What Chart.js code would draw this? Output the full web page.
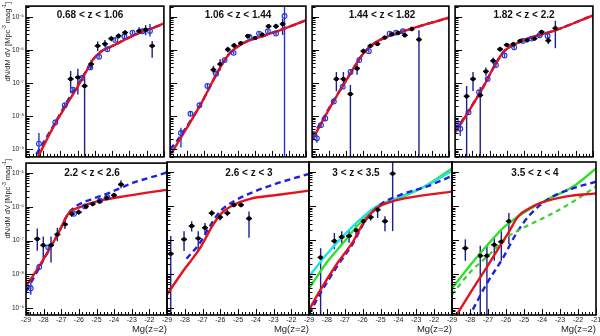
<!DOCTYPE html>
<html>
<head>
<meta charset="utf-8">
<script src="https://cdn.jsdelivr.net/npm/chart.js@4/dist/chart.umd.min.js"></script>
<style>
body { margin: 0; background: #fff; width: 600px; height: 336px; overflow: hidden; position: relative; font-family: "Liberation Sans", Arial, sans-serif; }
canvas { position: absolute; }
.zt { position: absolute; font-weight: bold; font-size: 10px; white-space: nowrap; transform: translateX(-50%); color: #111; }
.yt { position: absolute; left: 0px; writing-mode: vertical-rl; transform: rotate(180deg); font-size: 7.5px; line-height: 8px; white-space: nowrap; color: #222; }
.yt sup { font-size: 5px; }
.xt { position: absolute; top: 323px; width: 50px; text-align: right; font-size: 9.5px; color: #222; }
</style>
</head>
<body>
<script>
// redshift bins, axes
const zBins = ['0.68 < z < 1.06', '1.06 < z < 1.44', '1.44 < z < 1.82', '1.82 < z < 2.2',
               '2.2 < z < 2.6', '2.6 < z < 3', '3 < z < 3.5', '3.5 < z < 4'];
const xTicks = [-29, -28, -27, -26, -25, -24, -23, -22, -21];
const yTicks = [-9, -8, -7, -6, -5];   // log10 decades
const yRangeTop = [-9.23, -4.68];
const yRangeBottom = [-9.20, -4.71];

// all curves: [Mg, log10 phi]; points: [Mg, log10 phi, err low, err high]
const red1 = [[-28.3,-9.23],[-27.45,-8.36],[-26.69,-7.69],[-25.94,-7.06],[-25.47,-6.62],[-25.09,-6.28],[-24.62,-6.04],[-24.05,-5.9],[-23.29,-5.7],[-22.53,-5.51],[-21.4,-5.29],[-21,-5.2]];
const dash1 = [[-28.4,-9.15],[-27.36,-8.25],[-26.6,-7.55],[-25.94,-7.02],[-25.47,-6.6],[-25.09,-6.28],[-24.62,-6.04],[-24.05,-5.9],[-23.29,-5.7],[-22.53,-5.51],[-21.4,-5.29],[-21,-5.2]];
const black1 = [[-26.41,-6.88,-7.3,-6.64],[-25.99,-6.83,-7.35,-6.57],[-25.6,-7.09,-9.5,-6.8],[-25.22,-6.43,-6.57,-6.3],[-24.84,-5.88,-6.04,-5.75],[-24.42,-5.82,-5.92,-5.7],[-24.05,-5.66,-5.74,-5.58],[-23.63,-5.58,-5.66,-5.5],[-23.25,-5.48,-5.56,-5.4],[-22.44,-5.43,-5.51,-5.32],[-22.06,-5.39,-5.56,-5.25],[-21.68,-5.88,-6.24,-5.73]];
const open1 = [[-28.25,-8.83,-9.23,-8.51],[-27.3,-8.19,-8.27,-8.1],[-26.75,-7.67,-7.74,-7.6],[-26.28,-7.2,-7.27,-7.13],[-25.75,-6.85,-6.92,-6.78],[-25.27,-6.53,-6.6,-6.47],[-24.76,-6.21,-6.27,-6.15],[-24.28,-5.98,-6.03,-5.93],[-23.82,-5.7,-5.75,-5.65],[-23.29,-5.59,-5.64,-5.54],[-22.82,-5.48,-5.53,-5.43],[-22.25,-5.44,-5.5,-5.38],[-21.81,-5.43,-5.6,-5.22]];

const red2 = [[-29,-9.18],[-28.08,-8.41],[-27.14,-7.59],[-26.2,-6.67],[-25.55,-6.14],[-24.7,-5.8],[-23.38,-5.56],[-22.07,-5.32],[-21,-5.11]];
const dash2 = [[-29,-9.0],[-28.64,-8.78],[-28.08,-8.36],[-27.14,-7.59],[-26.2,-6.67],[-25.55,-6.14],[-24.7,-5.8],[-23.38,-5.56],[-22.07,-5.32],[-21,-5.11]];
const black2 = [[-26.45,-6.6,-6.74,-6.48],[-26.05,-6.43,-6.62,-6.28],[-25.6,-5.99,-6.07,-5.91],[-25.23,-5.87,-5.94,-5.8],[-24.83,-5.8,-5.86,-5.74],[-24.42,-5.58,-5.64,-5.52],[-23.99,-5.64,-5.7,-5.58],[-23.57,-5.54,-5.6,-5.48],[-23.2,-5.29,-5.36,-5.22],[-22.76,-5.29,-5.37,-5.21],[-22.37,-5.22,-5.55,-5.06]];
const open2 = [[-28.98,-9.04,-9.12,-8.96],[-28.36,-8.51,-8.95,-8.35],[-27.8,-7.93,-8.0,-7.86],[-27.27,-7.67,-7.74,-7.6],[-26.8,-7.09,-7.15,-7.03],[-26.29,-6.72,-6.78,-6.66],[-25.79,-6.31,-6.36,-6.26],[-25.26,-6.09,-6.14,-6.04],[-24.32,-5.61,-5.66,-5.56],[-23.76,-5.51,-5.56,-5.46],[-23.24,-5.44,-5.49,-5.39],[-22.76,-5.51,-5.57,-5.45],[-22.26,-4.98,-9.5,-4.5]];

const red3 = [[-29,-8.72],[-27.73,-7.54],[-26.71,-6.67],[-26.05,-6.14],[-25.49,-5.85],[-25.03,-5.7],[-23.91,-5.48],[-22.61,-5.27],[-21,-5.03]];
const dash3 = [[-29,-8.64],[-28.5,-8.2],[-27.73,-7.52],[-26.71,-6.67],[-26.05,-6.14],[-25.49,-5.85],[-25.03,-5.7],[-23.91,-5.48],[-22.61,-5.27],[-21,-5.03]];
const black3 = [[-27.58,-6.88,-7.25,-6.67],[-27.17,-6.88,-7.1,-6.67],[-26.76,-7.33,-9.5,-7.06],[-26.37,-6.56,-6.75,-6.43],[-26.0,-6.04,-6.12,-5.96],[-25.59,-5.88,-5.95,-5.81],[-25.18,-5.82,-5.88,-5.76],[-24.75,-5.63,-5.69,-5.57],[-24.34,-5.53,-5.59,-5.47],[-23.97,-5.49,-5.55,-5.43],[-23.58,-5.56,-5.62,-5.5],[-23.17,-5.37,-5.44,-5.3],[-22.75,-5.69,-9.5,-5.41]];
const open3 = [[-28.91,-8.56,-8.7,-8.45],[-28.72,-8.67,-8.8,-8.55],[-28.48,-8.27,-8.35,-8.19],[-28.23,-8.07,-8.14,-8.0],[-27.73,-7.56,-7.62,-7.5],[-27.21,-7.11,-7.17,-7.05],[-26.75,-6.67,-6.72,-6.62],[-26.24,-6.31,-6.36,-6.26],[-25.68,-6.04,-6.09,-5.99],[-24.47,-5.51,-5.55,-5.47],[-24.09,-5.48,-5.52,-5.44],[-23.69,-5.44,-5.48,-5.4]];

const red4 = [[-29,-8.5],[-28.18,-7.83],[-27.35,-7.11],[-26.71,-6.48],[-26.15,-6.04],[-25.41,-5.8],[-24.48,-5.61],[-23.18,-5.41],[-21,-4.96]];
const dash4 = [[-29,-8.45],[-28.18,-7.81],[-27.35,-7.1],[-26.71,-6.48],[-26.15,-6.04],[-25.41,-5.8],[-24.48,-5.61],[-23.18,-5.41],[-21,-4.96]];
const black4 = [[-28.33,-7.4,-9.5,-7.09],[-27.96,-6.88,-7.24,-6.67],[-27.54,-7.37,-9.5,-7.12],[-27.21,-6.65,-6.78,-6.53],[-26.79,-6.33,-6.43,-6.23],[-26.39,-5.98,-6.05,-5.91],[-26.0,-5.85,-5.91,-5.79],[-25.62,-5.83,-5.89,-5.77],[-25.22,-5.73,-5.79,-5.67],[-24.82,-5.71,-5.77,-5.65],[-24.39,-5.66,-5.72,-5.6],[-23.98,-5.46,-5.52,-5.4],[-23.59,-5.72,-5.82,-5.62],[-23.18,-5.35,-5.95,-5.12]];
const open4 = [[-28.83,-8.22,-8.3,-8.14],[-28.7,-8.38,-8.6,-8.2],[-28.22,-7.88,-7.95,-7.81],[-27.61,-7.28,-7.34,-7.22],[-27.11,-6.88,-6.94,-6.82],[-26.63,-6.46,-6.51,-6.41],[-26.13,-6.17,-6.22,-6.12],[-25.57,-5.92,-5.97,-5.87],[-25.07,-5.73,-5.78,-5.68],[-24.56,-5.66,-5.71,-5.61],[-24.09,-5.56,-5.61,-5.51],[-23.63,-5.58,-5.64,-5.52]];

const red5 = [[-29,-8.36],[-28.02,-7.56],[-27.17,-6.79],[-26.6,-6.21],[-25.94,-6.01],[-24.8,-5.82],[-23.29,-5.68],[-21.4,-5.53],[-21,-5.5]];
const dash5 = [[-29,-8.5],[-28.4,-7.95],[-28.02,-7.58],[-27.17,-6.79],[-26.6,-6.2],[-26.12,-5.97],[-25.18,-5.76],[-24.24,-5.58],[-22.91,-5.29],[-21.4,-5.05],[-21,-4.98]];
const black5 = [[-28.36,-6.95,-7.3,-6.64],[-28.02,-7.14,-7.61,-6.88],[-27.58,-7.14,-7.65,-6.88],[-27.22,-6.82,-7.02,-6.62],[-26.79,-6.52,-6.66,-6.39],[-26.41,-6.21,-6.3,-6.12],[-26.01,-6.16,-6.24,-6.08],[-25.6,-5.99,-6.05,-5.93],[-25.22,-5.92,-5.98,-5.86],[-24.84,-5.84,-5.9,-5.78],[-24.42,-5.74,-5.8,-5.68],[-24.01,-5.66,-5.73,-5.59],[-23.61,-5.34,-5.45,-5.22]];
const open5 = [[-28.73,-8.41,-8.6,-8.25],[-28.25,-7.78,-7.85,-7.71],[-27.74,-7.2,-7.26,-7.14],[-26.28,-6.21,-6.26,-6.16],[-25.65,-5.99,-6.04,-5.94],[-24.8,-5.82,-5.86,-5.78],[-24.39,-5.72,-5.76,-5.68]];

const red6 = [[-29,-8.6],[-28.08,-7.9],[-27.14,-7.24],[-26.39,-6.54],[-25.92,-6.21],[-25.26,-5.97],[-24.32,-5.79],[-22.82,-5.68],[-21,-5.55]];
const dash6 = [[-27.9,-7.55],[-27.14,-7.08],[-26.58,-6.59],[-26.01,-6.16],[-25.26,-5.87],[-24.32,-5.63],[-22.82,-5.34],[-21,-5.06]];
const black6 = [[-28.79,-7.4,-9.5,-6.88],[-28.04,-6.98,-7.32,-6.74],[-27.61,-6.59,-6.75,-6.45],[-27.24,-6.95,-7.32,-6.74],[-26.86,-6.64,-6.8,-6.5],[-26.48,-6.21,-6.3,-6.12],[-26.01,-6.33,-6.43,-6.23],[-25.6,-6.21,-6.3,-6.12],[-25.23,-5.97,-6.04,-5.9],[-24.83,-5.97,-6.04,-5.9],[-24.38,-6.37,-6.93,-6.16]];

const red7 = [[-29,-9.05],[-28.38,-8.48],[-27.45,-7.71],[-26.52,-7.03],[-25.96,-6.5],[-25.21,-6.06],[-24.37,-5.87],[-22.98,-5.72],[-21,-5.58]];
const dash7 = [[-29,-9.17],[-28.38,-8.58],[-27.45,-7.79],[-26.52,-7.08],[-25.87,-6.45],[-25.03,-5.97],[-23.91,-5.68],[-22.42,-5.43],[-21,-5.12]];
const cyan7 = [[-29,-8.07],[-28.01,-7.42],[-27.08,-6.88],[-26.15,-6.4],[-25.21,-6.01],[-24.09,-5.77],[-22.61,-5.45],[-21,-4.97]];
const green7 = [[-29,-8.42],[-28.01,-7.66],[-27.08,-7.08],[-26.15,-6.5],[-25.21,-6.06],[-24.09,-5.8],[-22.61,-5.45],[-21,-4.9]];
const black7 = [[-28.35,-7.51,-9.5,-7.24],[-27.58,-7.03,-7.27,-6.79],[-27.17,-6.91,-7.17,-6.74],[-26.76,-6.88,-7.08,-6.69],[-26.37,-6.71,-6.88,-6.55],[-25.96,-6.45,-6.55,-6.35],[-25.55,-6.33,-6.43,-6.23],[-25.16,-6.11,-6.35,-5.97],[-24.75,-6.45,-6.74,-6.3],[-24.32,-5.05,-6.74,-4.5]];

const red8 = [[-28.8,-9.25],[-27.72,-8.33],[-27.07,-7.8],[-26.33,-7.17],[-25.87,-6.79],[-25.32,-6.3],[-24.67,-6.06],[-24.11,-5.92],[-22.63,-5.72],[-21,-5.63]];
const dash8 = [[-28.1,-9.3],[-27.07,-8.28],[-26.15,-7.51],[-25.41,-6.79],[-24.67,-6.26],[-23.56,-5.77],[-22.26,-5.48],[-21,-5.29]];
const green8 = [[-29,-8.42],[-28.0,-7.75],[-27.07,-7.17],[-26.15,-6.64],[-25.04,-6.21],[-23.74,-5.82],[-22.26,-5.43],[-21,-4.9]];
const greenDash8 = [[-29,-8.6],[-28.0,-7.95],[-26.89,-7.41],[-25.96,-6.93],[-24.85,-6.59],[-23.56,-6.26],[-22.26,-5.87],[-21,-5.43]];
const black8 = [[-28.26,-7.24,-7.61,-6.98],[-27.43,-7.46,-9.5,-7.17],[-27.06,-7.46,-9.5,-7.17],[-26.65,-7.14,-7.61,-6.91],[-26.26,-7.05,-7.61,-6.74],[-25.84,-6.45,-7.12,-6.21]];

const panels = [
    { red: red1, dash: dash1, black: black1, open: open1 },
    { red: red2, dash: dash2, black: black2, open: open2 },
    { red: red3, dash: dash3, black: black3, open: open3 },
    { red: red4, dash: dash4, black: black4, open: open4 },
    { red: red5, dash: dash5, black: black5, open: open5 },
    { red: red6, dash: dash6, black: black6, open: [] },
    { red: red7, dash: dash7, cyan: cyan7, green: green7, black: black7, open: [] },
    { red: red8, dash: dash8, green: green8, greenDash: greenDash8, black: black8, open: [] }
];

// pad geometry
const colL = [26, 167, 309, 452];
const colR = [167, 309, 452, 596];
const rowT = [3, 160];
const rowB = [160, 315];
const titleX = [90, 238, 382, 524, 92, 249, 356, 535];
const titleY = [9, 167];

Chart.defaults.font.family = '"Liberation Sans", Arial, sans-serif';

const sup = { '-': '⁻', '0': '⁰', '1': '¹', '2': '²', '3': '³', '4': '⁴', '5': '⁵', '6': '⁶', '7': '⁷', '8': '⁸', '9': '⁹' };
const pow10 = n => '10' + String(n).split('').map(c => sup[c]).join('');
const toPts = arr => arr.map(p => ({ x: p[0], y: Math.pow(10, p[1]) }));

// ROOT-like frame, inward ticks and error bars
const rootAxes = {
    id: 'rootAxes',
    beforeDatasetsDraw(chart) {
        const { ctx, chartArea: a, scales: { x, y } } = chart;
        ctx.save();
        ctx.beginPath();
        ctx.rect(a.left, a.top, a.right - a.left, a.bottom - a.top);
        ctx.clip();
        chart.data.datasets.forEach(ds => {
            if (!ds.errs) return;
            ds.errs.forEach(e => {
                const px = x.getPixelForValue(e[0]);
                ctx.strokeStyle = ds.errColor;
                ctx.lineWidth = 1.4;
                ctx.beginPath();
                ctx.moveTo(px, y.getPixelForValue(Math.pow(10, e[2])));
                ctx.lineTo(px, y.getPixelForValue(Math.pow(10, e[3])));
                ctx.stroke();
                if (ds.xErr) {
                    const py = y.getPixelForValue(Math.pow(10, e[1]));
                    ctx.strokeStyle = '#000';
                    ctx.lineWidth = 1.6;
                    ctx.beginPath();
                    ctx.moveTo(x.getPixelForValue(e[0] - ds.xErr), py);
                    ctx.lineTo(x.getPixelForValue(e[0] + ds.xErr), py);
                    ctx.stroke();
                }
            });
        });
        ctx.restore();
    },
    afterDraw(chart) {
        const { ctx, chartArea: a, scales: { x, y } } = chart;
        ctx.save();
        ctx.strokeStyle = '#000';
        ctx.lineWidth = 1;
        ctx.beginPath();
        for (let k = 0; k <= 40; k++) {
            const px = Math.round(x.getPixelForValue(-29 + k * 0.2)) + 0.5;
            const len = k % 5 === 0 ? 6 : 3;
            ctx.moveTo(px, a.bottom);
            ctx.lineTo(px, a.bottom - len);
        }
        for (let n = -10; n <= -4; n++) {
            for (let k = 1; k <= 9; k++) {
                const v = k * Math.pow(10, n);
                if (v < y.min || v > y.max) continue;
                const py = Math.round(y.getPixelForValue(v)) + 0.5;
                ctx.moveTo(a.left, py);
                ctx.lineTo(a.left + (k === 1 ? 7 : 3.5), py);
            }
        }
        ctx.stroke();
        ctx.lineWidth = 1.6;
        ctx.strokeRect(a.left, a.top, a.right - a.left, a.bottom - a.top);
        ctx.restore();
    }
};

function curve(arr, color, width, dash) {
    return {
        data: toPts(arr), showLine: true, pointRadius: 0, borderColor: color,
        borderWidth: width, borderDash: dash || [], tension: 0.4, cubicInterpolationMode: 'monotone'
    };
}

panels.forEach((p, i) => {
    const row = Math.floor(i / 4), col = i % 4;
    const padL = col === 0 ? 26 : (row === 1 ? 9 : 2);
    const padR = row === 1 ? 9 : 2;
    const padT = 2;
    const padB = row === 1 ? 20 : 2;
    const w = colR[col] - colL[col] + padL + padR;
    const h = rowB[row] - rowT[row] + padT + padB;
    const cv = document.createElement('canvas');
    cv.width = w; cv.height = h;
    cv.style.left = (colL[col] - padL) + 'px';
    cv.style.top = (rowT[row] - padT) + 'px';
    cv.style.width = w + 'px'; cv.style.height = h + 'px';
    document.body.appendChild(cv);

    const yr = row === 0 ? yRangeTop : yRangeBottom;
    const datasets = [
        {
            data: toPts(p.black), pointRadius: 2.2, pointBackgroundColor: '#000', pointBorderColor: '#000',
            pointBorderWidth: 0, errs: p.black, errColor: '#1b1f8a', xErr: 0.17
        },
        {
            data: toPts(p.open), pointRadius: 2.4, pointBackgroundColor: 'rgba(0,0,0,0)',
            pointBorderColor: '#2433d6', pointBorderWidth: 1.1, errs: p.open, errColor: '#2433d6'
        },
        curve(p.red, '#e3121c', 2.4)
    ];
    if (p.greenDash) datasets.push(curve(p.greenDash, '#3ad23a', 2.2, [5, 4]));
    datasets.push(curve(p.dash, '#1f1fe0', 2.4, [6, 4]));
    if (p.cyan) datasets.push(curve(p.cyan, '#1fe3e6', 2.4));
    if (p.green) datasets.push(curve(p.green, '#2fe02f', 2.4));

    new Chart(cv, {
        type: 'scatter',
        data: { datasets },
        options: {
            responsive: false, animation: false, devicePixelRatio: 1, events: [],
            layout: { padding: { top: padT, right: padR, left: 0, bottom: 0 } },
            plugins: { legend: { display: false }, tooltip: { enabled: false } },
            scales: {
                x: {
                    type: 'linear', min: -29, max: -21,
                    grid: { display: false, drawTicks: false }, border: { display: false },
                    ticks: {
                        display: row === 1, autoSkip: false, maxRotation: 0, padding: 1,
                        color: '#222', font: { size: 7 }, callback: v => String(v)
                    },
                    afterBuildTicks: s => {
                        s.ticks = xTicks.filter(v => col === 3 || v < -21).map(v => ({ value: v }));
                    },
                    afterFit: s => { s.height = padB; s.paddingLeft = 0; s.paddingRight = 0; }
                },
                y: {
                    type: 'logarithmic', min: Math.pow(10, yr[0]), max: Math.pow(10, yr[1]),
                    grid: { display: false, drawTicks: false }, border: { display: false },
                    ticks: {
                        display: col === 0, padding: 2, color: '#222', font: { size: 6.5 },
                        callback: v => pow10(Math.round(Math.log10(v)))
                    },
                    afterBuildTicks: s => { s.ticks = yTicks.map(n => ({ value: Math.pow(10, n) })); },
                    afterFit: s => { s.width = padL; s.paddingTop = 0; s.paddingBottom = 0; }
                }
            }
        },
        plugins: [rootAxes]
    });

    const t = document.createElement('div');
    t.className = 'zt';
    t.textContent = zBins[i];
    t.style.left = titleX[i] + 'px';
    t.style.top = titleY[row] + 'px';
    document.body.appendChild(t);

    if (row === 1) {
        const xt = document.createElement('div');
        xt.className = 'xt';
        xt.textContent = 'Mg(z=2)';
        xt.style.left = (colR[col] - 50) + 'px';
        document.body.appendChild(xt);
    }
});

rowT.forEach(top => {
    const yt = document.createElement('div');
    yt.className = 'yt';
    yt.innerHTML = 'dN/dM dV [Mpc<sup>-3</sup> mag<sup>-1</sup>]';
    yt.style.top = (top - 1) + 'px';
    document.body.appendChild(yt);
});
</script>
</body>
</html>
